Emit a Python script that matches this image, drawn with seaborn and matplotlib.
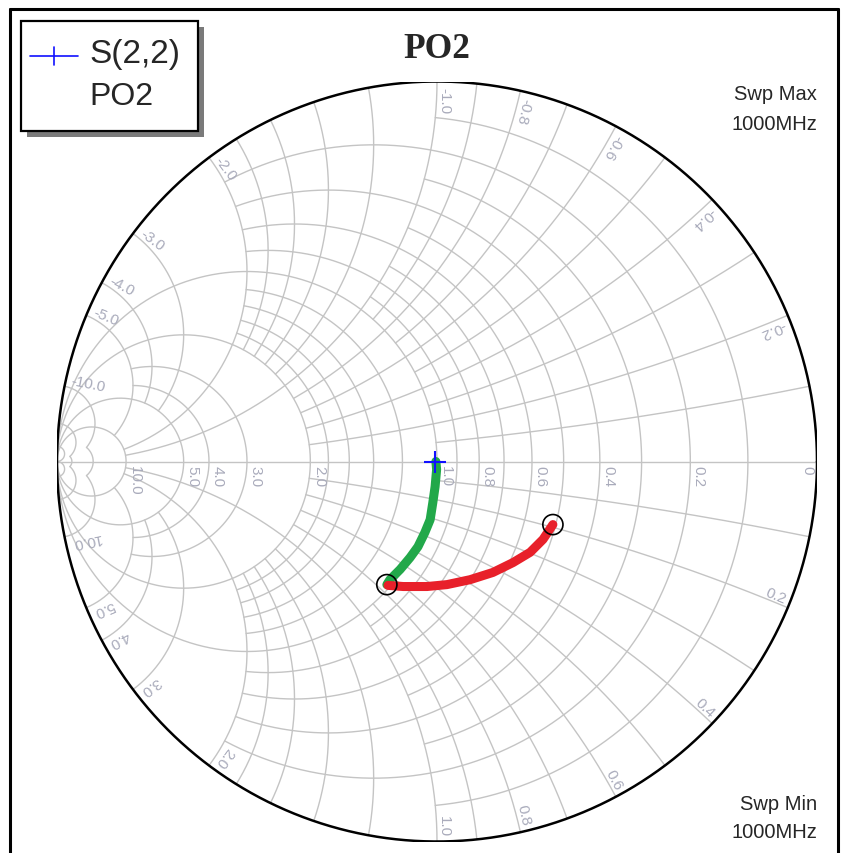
import numpy as np
import matplotlib
matplotlib.use("Agg")
import matplotlib.pyplot as plt
import seaborn as sns
from matplotlib.patches import Rectangle
from matplotlib.lines import Line2D

sns.set_theme(style="white")
plt.rcParams["font.family"] = ["Liberation Sans", "DejaVu Sans"]

# ---- data: reflection coefficient (real, imag) ----
s22_re = [-0.004]
s22_im = [0.0]

shunt_re = [-0.003, -0.001, -0.005, -0.011, -0.018, -0.032, -0.050, -0.071, -0.097, -0.124, -0.132]
shunt_im = [0.000, -0.021, -0.066, -0.108, -0.153, -0.187, -0.224, -0.253, -0.284, -0.311, -0.324]

line_re = [-0.129, -0.089, -0.026, 0.026, 0.087, 0.147, 0.200, 0.245, 0.279, 0.305]
line_im = [-0.326, -0.329, -0.329, -0.324, -0.311, -0.292, -0.266, -0.239, -0.205, -0.166]

# ---- admittance grid: (value, limit of the other coordinate) ----
g_circles = [(0.1, 1), (0.2, 2), (0.3, 1), (0.4, 2), (0.5, 1), (0.6, 2), (0.7, 1),
             (0.8, 2), (0.9, 1), (1.0, np.inf), (1.2, 2), (1.4, 2), (1.6, 2), (1.8, 2),
             (2.0, np.inf), (3.0, 5), (4.0, 5), (5.0, np.inf), (10.0, np.inf),
             (20.0, 10), (50.0, 20)]
b_arcs = [(0.1, 1), (0.2, 2), (0.3, 1), (0.4, 2), (0.5, 1), (0.6, 2), (0.7, 1),
          (0.8, 2), (0.9, 1), (1.0, 10), (1.2, 2), (1.4, 2), (1.6, 2), (1.8, 2),
          (2.0, 10), (3.0, 5), (4.0, 5), (5.0, 10), (10.0, 20),
          (20.0, 50), (50.0, np.inf)]
axis_labels = [0.2, 0.4, 0.6, 0.8, 1.0, 2.0, 3.0, 4.0, 5.0, 10.0]
rim_labels = [0.2, 0.4, 0.6, 0.8, 1.0, 2.0, 3.0, 4.0, 5.0, 10.0]

W, H = 850, 854
fig = plt.figure(figsize=(W / 100, H / 100), dpi=100)
fig.patch.set_facecolor("white")

cx, cy, R = 437.0, 462.5, 380.0
ax = fig.add_axes([(cx - R) / W, (H - cy - R) / H, 2 * R / W, 2 * R / H])
ax.set_xlim(-1, 1)
ax.set_ylim(-1, 1)
ax.axis("off")

GRID = "#c4c4c4"
LBL = "#a9abbb"


def gamma(y):
    return (1 - y) / (1 + y)


def span(lim, n=1500):
    if np.isinf(lim):
        t = np.linspace(-np.pi / 2 + 1e-4, np.pi / 2 - 1e-4, n)
    else:
        t = np.linspace(-np.arctan(lim), np.arctan(lim), n)
    return np.tan(t)


for g, bmax in g_circles:
    z = gamma(g + 1j * span(bmax))
    ax.plot(z.real, z.imag, color=GRID, lw=1.0, zorder=1)

for b, gmax in b_arcs:
    top = np.pi / 2 - 1e-4 if np.isinf(gmax) else np.arctan(gmax)
    gs = np.tan(np.linspace(0, top, 1500))
    for s in (1, -1):
        z = gamma(gs + 1j * s * b)
        ax.plot(z.real, z.imag, color=GRID, lw=1.0, zorder=1)

ax.plot([-1, 1], [0, 0], color=GRID, lw=1.0, zorder=1)
th = np.linspace(0, 2 * np.pi, 1000)
ax.plot(np.cos(th), np.sin(th), color="black", lw=1.8, zorder=3)

# labels on the real axis
for g in axis_labels:
    x = gamma(g)
    ax.text(x + 0.004, -0.008, f"{g:.1f}", rotation=-90, ha="left", va="bottom",
            fontsize=11, color=LBL, rotation_mode="anchor")
ax.text(0.955, -0.008, "0", rotation=-90, ha="left", va="bottom",
        fontsize=11, color=LBL, rotation_mode="anchor")

# labels on the rim
for b in rim_labels:
    for s in (1, -1):
        z = gamma(1j * s * b)
        ang = np.degrees(np.arctan2(z.imag, z.real))
        p = 0.985 * z
        if z.imag > 0:
            ax.text(p.real, p.imag, f"{-b:.1f}", rotation=ang - 180, ha="left", va="bottom",
                    fontsize=11, color=LBL, rotation_mode="anchor")
        else:
            ax.text(p.real, p.imag, f"{b:.1f}", rotation=ang, ha="right", va="bottom",
                    fontsize=11, color=LBL, rotation_mode="anchor")

# matching path
sns.lineplot(x=shunt_re, y=shunt_im, sort=False, color="#22a84a", lw=6.5, ax=ax, zorder=5)
sns.lineplot(x=line_re, y=line_im, sort=False, color="#e8202a", lw=6.5, ax=ax, zorder=5)
ends_re = [shunt_re[-1], line_re[-1]]
ends_im = [shunt_im[-1], line_im[-1]]
ax.scatter(ends_re, ends_im, s=210, facecolors="none", edgecolors="black", lw=1.2, zorder=6)
sns.scatterplot(x=s22_re, y=s22_im, marker="+", s=260, color="#1010ff", linewidth=1.5,
                ax=ax, zorder=7)

# title and sweep notes
fig.text(437 / W, 1 - 50 / H, "PO2", ha="center", va="center", fontsize=25.5,
         fontweight="bold", family="Liberation Serif")
for txt, yy in [("Swp Max", 95), ("1000MHz", 125), ("Swp Min", 805), ("1000MHz", 833)]:
    fig.text(817 / W, 1 - yy / H, txt, ha="right", va="center", fontsize=14.5)

# outer frame
fig.add_artist(Line2D([10 / W, 10 / W], [0, 1 - 10 / H], color="black", lw=2.2))
fig.add_artist(Line2D([10 / W, 838 / W], [1 - 10 / H, 1 - 10 / H], color="black", lw=2.2))
fig.add_artist(Line2D([838 / W, 838 / W], [0, 1 - 10 / H], color="black", lw=2.2))

# legend box with shadow
fig.add_artist(Rectangle((27 / W, 1 - 138 / H), 177 / W, 110 / H, transform=fig.transFigure,
                         facecolor="#7a7a7a", edgecolor="none"))
fig.add_artist(Rectangle((21 / W, 1 - 132 / H), 177 / W, 110 / H, transform=fig.transFigure,
                         facecolor="white", edgecolor="black", lw=1.6))
fig.add_artist(Line2D([30 / W, 78 / W], [1 - 57 / H, 1 - 57 / H], color="#1010ff", lw=1.2))
fig.add_artist(Line2D([54 / W, 54 / W], [1 - 48 / H, 1 - 66 / H], color="#1010ff", lw=1.2))
fig.text(89 / W, 1 - 55 / H, "S(2,2)", ha="left", va="center", fontsize=24)
fig.text(89 / W, 1 - 97 / H, "PO2", ha="left", va="center", fontsize=23)

fig.savefig("out.png", dpi=100, facecolor="white")
